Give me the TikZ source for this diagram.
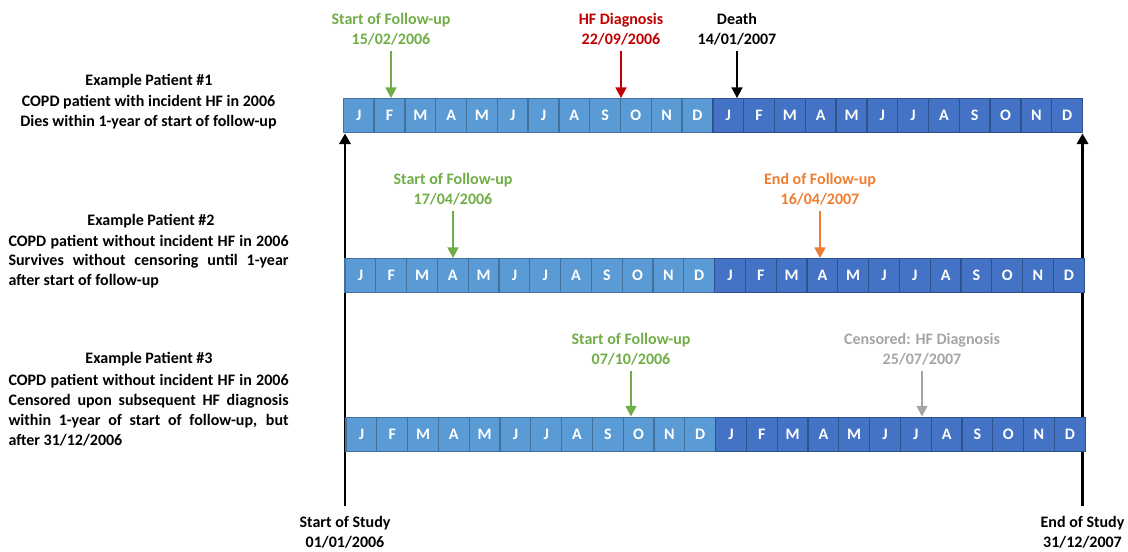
\documentclass[tikz,border=0pt]{standalone}
\usepackage{fontspec}
\setmainfont{Carlito}
\usetikzlibrary{arrows.meta,backgrounds}

\definecolor{lightcell}{HTML}{5B9BD5}
\definecolor{lightedge}{HTML}{41719C}
\definecolor{darkcell}{HTML}{4472C4}
\definecolor{darkedge}{HTML}{2F528F}
\definecolor{fugreen}{HTML}{70AD47}
\definecolor{hfred}{HTML}{C00000}
\definecolor{endorange}{HTML}{ED7D31}
\definecolor{censgray}{HTML}{A5A5A5}

\tikzset{
  cell/.style={draw, line width=1pt, minimum width=23.1pt, minimum height=25.5pt,
    inner sep=0pt, text height=7.7pt, text depth=0pt, text=white,
    font=\fontsize{12}{14}\selectfont\bfseries},
  yr06/.style={cell, fill=lightcell, draw=lightedge},
  yr07/.style={cell, fill=darkcell, draw=darkedge},
  evlabel/.style={align=center, anchor=base, inner sep=0pt, outer sep=4.5pt,
    font=\fontsize{12}{14.3}\selectfont\bfseries},
  evarrow/.style={line width=1.75pt, -{Triangle[width=8pt,length=8pt]}},
  studytext/.style={align=center, anchor=base, inner sep=0pt, outer sep=8pt,
    font=\fontsize{12}{14.8}\selectfont\bfseries},
  studyline/.style={line width=2.1pt, -{Triangle[width=8.5pt,length=8pt]}},
  ptitle/.style={anchor=base, inner sep=0pt, font=\fontsize{12}{14.6}\selectfont\bfseries},
  pbody/.style={inner sep=0pt, font=\fontsize{12}{14.5}\selectfont\bfseries},
}

\begin{document}
\begin{tikzpicture}[x=0.75pt,y=-0.75pt]
\useasboundingbox (0,0) rectangle (1128,551);

% month bars: 2006 in light blue, 2007 in dark blue
\foreach \row/\bx/\by in {1/343.3/115.8, 2/345/275.8, 3/346/434.2} {
  \foreach \m [count=\i from 0] in {J,F,M,A,M,J,J,A,S,O,N,D}
    \node[yr06] (r\row-\i) at (\bx+30.8*\i+15.4,\by) {\m};
  \foreach \m [count=\i from 12] in {J,F,M,A,M,J,J,A,S,O,N,D}
    \node[yr07] (r\row-\i) at (\bx+30.8*\i+15.4,\by) {\m};
}

% study window (node base = last line)
\node[studytext] (ssL) at (345,547.7) {Start of Study\\01/01/2006};
\node[studytext] (ssR) at (1082.5,547.7) {End of Study\\31/12/2007};
\begin{scope}[on background layer]
  \draw[studyline] (ssL.north) -- (ssL.north |- r1-0.south);
  \draw[studyline] (ssR.north) -- (ssR.north |- r1-23.south);
\end{scope}

% patient descriptions
\node[ptitle] (p1t) at (149,85) {Example Patient \#1};
\node[pbody, align=center, anchor=base] (p1b) at (148.5,126)
  {COPD patient with incident HF in 2006\\Dies within 1-year of start of follow-up};

\node[ptitle] (p2t) at (151,225) {Example Patient \#2};
\node[pbody, align=left, anchor=base west] (p2b) at (8.3,285)
  {\makebox[210pt][s]{COPD patient without incident HF in 2006}\\
   \makebox[210pt][s]{Survives without censoring until 1-year}\\
   after start of follow-up};

\node[ptitle] (p3t) at (149,363.3) {Example Patient \#3};
\node[pbody, align=left, anchor=base west, font=\fontsize{12}{15}\selectfont\bfseries] (p3b) at (8.3,445)
  {\makebox[210pt][s]{COPD patient without incident HF in 2006}\\
   \makebox[210pt][s]{Censored upon subsequent HF diagnosis}\\
   \makebox[210pt][s]{within 1-year of start of follow-up, but}\\
   after 31/12/2006};

% patient 1 events
\node[evlabel, text=fugreen] (fu1) at (391,44) {Start of Follow-up\\15/02/2006};
\node[evlabel, text=hfred] (hf1) at (621,44) {HF Diagnosis\\22/09/2006};
\node[evlabel, text=black] (dt1) at (737,44) {Death\\14/01/2007};
\draw[evarrow, color=fugreen] (fu1.south) -- (fu1.south |- r1-1.north);
\draw[evarrow, color=hfred] (hf1.south) -- (hf1.south |- r1-9.north);
\draw[evarrow, color=black] (dt1.south) -- (dt1.south |- r1-12.north);

% patient 2 events
\node[evlabel, text=fugreen] (fu2) at (453,204) {Start of Follow-up\\17/04/2006};
\node[evlabel, text=endorange] (end2) at (820,204) {End of Follow-up\\16/04/2007};
\draw[evarrow, color=fugreen] (fu2.south) -- (fu2.south |- r2-3.north);
\draw[evarrow, color=endorange] (end2.south) -- (end2.south |- r2-15.north);

% patient 3 events
\node[evlabel, text=fugreen] (fu3) at (631,364) {Start of Follow-up\\07/10/2006};
\node[evlabel, text=censgray] (cs3) at (922,364) {Censored: HF Diagnosis\\25/07/2007};
\draw[evarrow, color=fugreen] (fu3.south) -- (fu3.south |- r3-9.north);
\draw[evarrow, color=censgray] (cs3.south) -- (cs3.south |- r3-18.north);
\end{tikzpicture}
\end{document}
